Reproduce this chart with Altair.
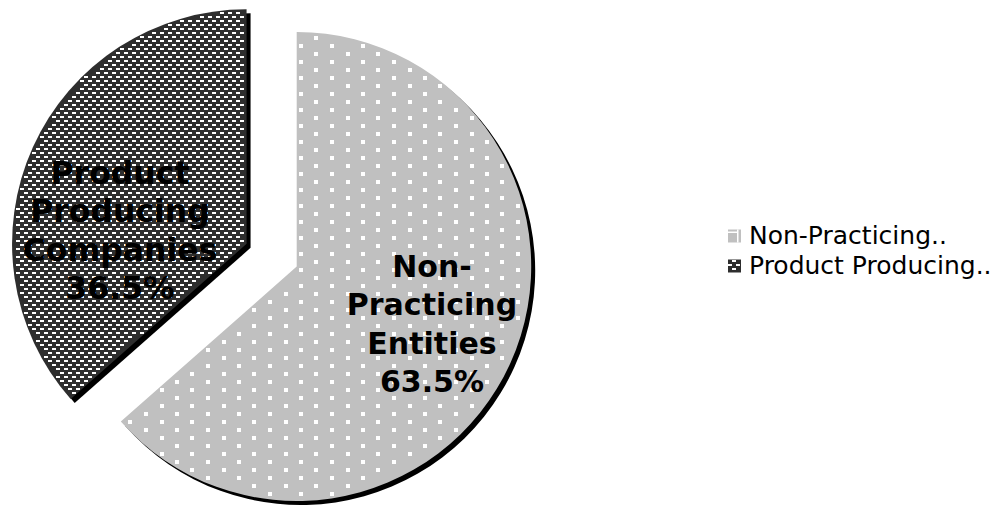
import numpy as np
import pandas as pd
import altair as alt

# Patent suits filed, by type of plaintiff
categories = ["Non-Practicing Entities", "Product Producing Companies"]
shares = [63.5, 36.5]
label_lines = [["Non-", "Practicing", "Entities"], ["Product", "Producing", "Companies"]]
legend_labels = ["Non-Practicing..", "Product Producing.."]

# ---- layout and style ----
W, H = 992, 508
CX, CY, R = 296.7, 266.5, 234.5          # pie centre and radius (px)
EXPLODE = [0.0, 55.0]                    # pull-out distance of each slice
SHADOW = 4                               # drop-shadow offset
FILLS = ["#c0c0c0", "#2e2e2e"]
LABEL_X = [432, 120]
LABEL_Y = [277, 184]                     # baseline of the first label line
LABEL_SIZE = [30, 31.5]
LINE_H = 38.3
FONT = "DejaVu Sans"
LEGEND_X, LEGEND_Y, LEGEND_STEP, SWATCH = 728, 236, 30, 13
LEGEND_TEXT_X, LEGEND_SIZE = 749, 25
DOT = 4                                  # white dot size in the dotted fill
DASH_W, DASH_H = 4, 2                    # white dash size in the brick fill

# slice angles (clockwise from 12 o'clock) and exploded centres
n = len(shares)
total = float(sum(shares))
ends = np.cumsum(shares) / total * 2 * np.pi
starts = ends - np.asarray(shares) / total * 2 * np.pi
mids = (starts + ends) / 2
cxs = CX + np.asarray(EXPLODE) * np.sin(mids)
cys = CY - np.asarray(EXPLODE) * np.cos(mids)

slices = pd.DataFrame({
    "idx": list(range(n)),
    "category": categories,
    "share": shares,
    "label": ["\n".join(lines + [f"{v}%"]) for lines, v in zip(label_lines, shares)],
})


def in_slice(px, py, i, margin=0.8):
    dx = px - cxs[i]
    dy = py - cys[i]
    r = np.hypot(dx, dy)
    ang = np.mod(np.arctan2(dx, -dy), 2 * np.pi)
    return (r <= R - margin) & (ang >= starts[i]) & (ang <= ends[i])


def rects_inside(x0, y0, w, h, test):
    ok = test(x0, y0) & test(x0 + w, y0) & test(x0, y0 + h) & test(x0 + w, y0 + h)
    return pd.DataFrame({"x": x0[ok], "x2": (x0 + w)[ok], "y": y0[ok], "y2": (y0 + h)[ok]})


def brick(x_lo, x_hi, y_lo, y_hi, px=8, py=4):
    cols = np.arange(np.floor(x_lo / px) - 1, np.ceil(x_hi / px) + 2)
    rows = np.arange(np.floor(y_lo / py) - 1, np.ceil(y_hi / py) + 2)
    C, Rw = np.meshgrid(cols, rows)
    bx = C * px + (Rw % 2) * (px / 2)
    by = Rw * py
    return bx.ravel(), by.ravel()


# dotted fill: white squares on a diamond lattice
K, M = np.meshgrid(np.arange(-22, 23), np.arange(-8, 66))
keep = (K + M) % 2 == 0
dot_x = np.round(301 + 15.5 * K[keep] - DOT / 2)
dot_y = np.round(45.7 + 8 * M[keep] - DOT / 2)
dots = rects_inside(dot_x, dot_y, DOT, DOT, lambda a, b: in_slice(a, b, 0))

# brick fill: white dashes on dark grey
bx, by = brick(cxs[1] - R, cxs[1] + R, cys[1] - R, cys[1] + R)
dashes = rects_inside(bx, by, DASH_W, DASH_H, lambda a, b: in_slice(a, b, 1))

# legend rows
legend = pd.DataFrame({
    "category": categories,
    "text": legend_labels,
    "yc": [LEGEND_Y + i * LEGEND_STEP for i in range(n)],
})
legend["x"] = LEGEND_X
legend["x2"] = LEGEND_X + SWATCH
legend["y"] = legend["yc"] - SWATCH / 2
legend["y2"] = legend["yc"] + SWATCH / 2

sw = legend.iloc[1]
lbx, lby = brick(sw.x, sw.x2, sw.y, sw.y2)
swatch_dashes = rects_inside(
    lbx, lby, DASH_W, DASH_H,
    lambda a, b: (a >= sw.x) & (a <= sw.x2) & (b >= sw.y) & (b <= sw.y2),
)
sw0 = legend.iloc[0]
swatch_dots = pd.DataFrame({
    "x": [sw0.x + 9, sw0.x],
    "x2": [sw0.x + 10.5, sw0.x + 9],
    "y": [sw0.y, sw0.y + 2],
    "y2": [sw0.y2, sw0.y + 3.5],
})


def arc_layer(i, color, off=0.0):
    return alt.Chart(slices).mark_arc(radius=R, fill=color).encode(
        theta=alt.Theta("share:Q", stack=True),
        order=alt.Order("idx:Q", sort="ascending"),
        x=alt.value(float(cxs[i] + off)),
        y=alt.value(float(cys[i] + off)),
        opacity=alt.condition(f"datum.idx == {i}", alt.value(1), alt.value(0)),
    )


def rect_layer(df, color):
    return alt.Chart(df).mark_rect(color=color).encode(
        x=alt.X("x:Q", scale=None, axis=None),
        x2="x2:Q",
        y=alt.Y("y:Q", scale=None, axis=None),
        y2="y2:Q",
    )


def label_layer(i):
    return alt.Chart(slices).transform_filter(f"datum.idx == {i}").mark_text(
        font=FONT, fontSize=LABEL_SIZE[i], fontWeight="bold", color="black",
        align="center", baseline="alphabetic", lineBreak="\n", lineHeight=LINE_H,
    ).encode(
        x=alt.value(LABEL_X[i]),
        y=alt.value(LABEL_Y[i]),
        text="label:N",
    )


shadows = [arc_layer(i, "black", SHADOW) for i in range(n)]
fills = [arc_layer(i, FILLS[i]) for i in range(n)]

swatches = alt.Chart(legend).mark_rect().encode(
    x=alt.X("x:Q", scale=None, axis=None),
    x2="x2:Q",
    y=alt.Y("y:Q", scale=None, axis=None),
    y2="y2:Q",
    fill=alt.Fill("category:N", scale=alt.Scale(domain=categories, range=FILLS), legend=None),
)

legend_text = alt.Chart(legend).mark_text(
    font=FONT, fontSize=LEGEND_SIZE, color="black", align="left", baseline="middle",
).encode(
    x=alt.value(LEGEND_TEXT_X),
    y=alt.Y("yc:Q", scale=None, axis=None),
    text="text:N",
)

chart = alt.layer(
    *shadows,
    *fills,
    rect_layer(dots, "white"),
    rect_layer(dashes, "white"),
    label_layer(0),
    label_layer(1),
    swatches,
    rect_layer(swatch_dashes, "white"),
    rect_layer(swatch_dots, "white"),
    legend_text,
).properties(
    width=W, height=H, padding=0, autosize=alt.AutoSizeParams(type="none"),
).configure_view(stroke=None)

chart.save("out.html", embed_options={"renderer": "svg", "actions": False})
